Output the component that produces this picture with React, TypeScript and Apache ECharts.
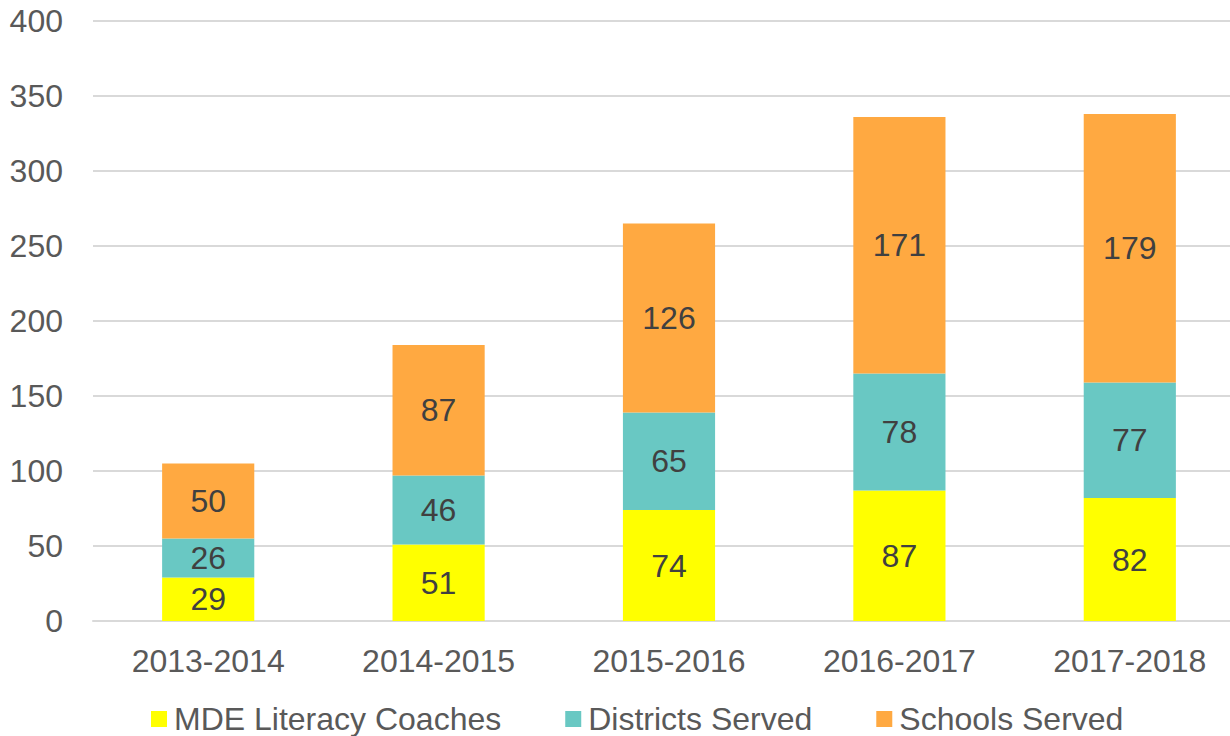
import React, { useEffect, useRef } from "react";
import * as echarts from "echarts";

const categories = ["2013-2014", "2014-2015", "2015-2016", "2016-2017", "2017-2018"];
const coaches = [29, 51, 74, 87, 82];
const districts = [26, 46, 65, 78, 77];
const schools = [50, 87, 126, 171, 179];
const seriesNames = ["MDE Literacy Coaches", "Districts Served", "Schools Served"];
const colors = ["#FFFF00", "#69C8C3", "#FFA941"];

const FONT = "'Liberation Sans', Arial, sans-serif";
const FS = 32;

export default function App() {
  const ref = useRef<HTMLDivElement>(null);
  useEffect(() => {
    if (!ref.current) return;
    const chart = echarts.init(ref.current, null, { renderer: "svg" });
    const mk = (name: string, data: number[], color: string) => ({
      name,
      type: "bar",
      stack: "total",
      data,
      barWidth: "40%",
      itemStyle: { color },
      label: {
        show: true,
        position: "inside",
        color: "#404040",
        fontSize: FS,
        fontFamily: FONT,
      },
    });
    chart.setOption({
      animation: false,
      textStyle: { fontFamily: FONT },
      grid: { left: 93, top: 21, height: 600, width: 1152, containLabel: false },
      legend: {
        left: 146,
        top: 698,
        itemWidth: 16,
        itemHeight: 16,
        itemGap: 64,
        icon: "rect",
        textStyle: { fontSize: FS, color: "#595959", fontFamily: FONT, padding: [0, 0, 0, 2] },
        data: seriesNames,
      },
      xAxis: {
        type: "category",
        data: categories,
        axisLine: { lineStyle: { color: "#D9D9D9", width: 2 } },
        axisTick: { show: false },
        axisLabel: { color: "#595959", fontSize: FS, fontFamily: FONT, margin: 24 },
      },
      yAxis: {
        type: "value",
        min: 0,
        max: 400,
        interval: 50,
        axisLine: { show: false },
        axisTick: { show: false },
        splitLine: { lineStyle: { color: "#D9D9D9", width: 2 } },
        axisLabel: { color: "#595959", fontSize: FS, fontFamily: FONT, margin: 30 },
      },
      series: [
        mk(seriesNames[0], coaches, colors[0]),
        mk(seriesNames[1], districts, colors[1]),
        mk(seriesNames[2], schools, colors[2]),
      ],
    });
    return () => chart.dispose();
  }, []);
  return (
    <div
      style={{ position: "absolute", left: 0, top: 0, width: 1230, height: 736, overflow: "hidden", background: "#fff" }}
    >
      <div ref={ref} style={{ width: 1260, height: 736 }} />
    </div>
  );
}
